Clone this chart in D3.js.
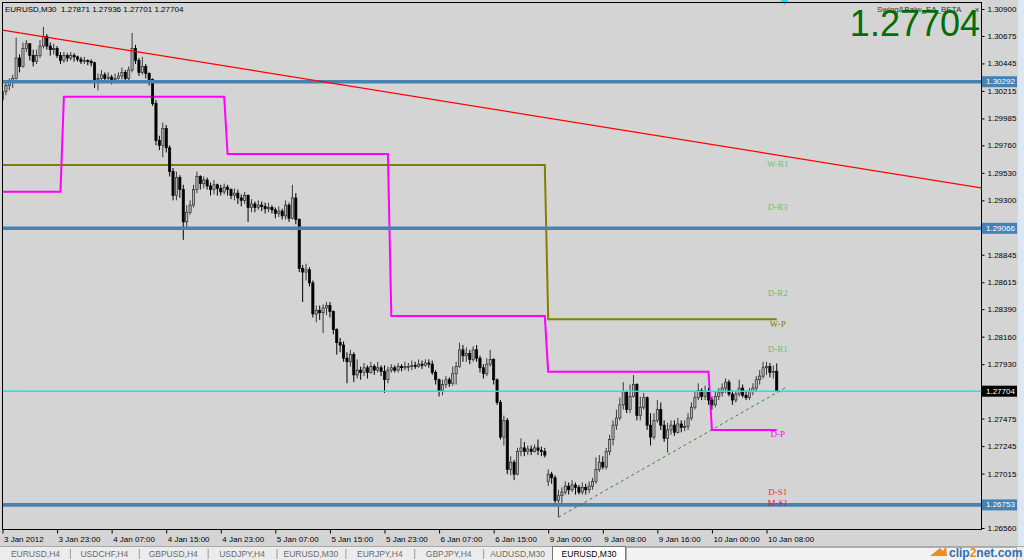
<!DOCTYPE html>
<html><head><meta charset="utf-8">
<script src="https://cdn.jsdelivr.net/npm/d3@7"></script>
<style>
html,body{margin:0;padding:0;background:#d4d4d4;overflow:hidden;}
svg{display:block;}
</style></head><body>
<svg id="c" width="1024" height="560"></svg>
<script>
// ---------------- DATA ----------------
const symbolTitle = "EURUSD,M30";
const eaName = "Swing&Balw_EA_BETA";
const lastBar = {open:1.27871, high:1.27936, low:1.27701, close:1.27704};

const opens = [
1.3014,1.3021,1.3026,1.3029,1.3032,1.3049,1.3042,1.3057,1.3061,1.3051,
1.3046,1.3051,1.3059,1.3067,1.3059,1.3056,1.3057,1.3051,1.3047,1.3051,
1.3049,1.3051,1.3050,1.3048,1.3046,1.3047,1.3046,1.3045,1.3031,1.3032,
1.3035,1.3032,1.3033,1.3031,1.3032,1.3034,1.3037,1.3032,1.3039,1.3057,
1.3047,1.3037,1.3042,1.3036,1.3031,1.3011,1.2980,1.2976,1.2990,1.2974,
1.2954,1.2934,1.2949,1.2939,1.2912,1.2920,1.2926,1.2939,1.2950,1.2944,
1.2947,1.2942,1.2939,1.2943,1.2940,1.2937,1.2941,1.2939,1.2934,1.2936,
1.2932,1.2930,1.2934,1.2924,1.2927,1.2924,1.2926,1.2925,1.2923,1.2924,
1.2922,1.2919,1.2921,1.2917,1.2926,1.2915,1.2932,1.2914,1.2873,1.2870,
1.2872,1.2861,1.2835,1.2838,1.2836,1.2840,1.2842,1.2837,1.2822,1.2811,
1.2809,1.2798,1.2795,1.2801,1.2784,1.2788,1.2786,1.2790,1.2786,1.2791,
1.2788,1.2790,1.2787,1.2780,1.2788,1.2790,1.2788,1.2791,1.2790,1.2791,
1.2791,1.2792,1.2791,1.2793,1.2792,1.2794,1.2793,1.2786,1.2780,1.2771,
1.2776,1.2780,1.2777,1.2785,1.2791,1.2805,1.2800,1.2802,1.2797,1.2805,
1.2798,1.2790,1.2785,1.2793,1.2797,1.2780,1.2761,1.2732,1.2746,1.2705,
1.2711,1.2701,1.2720,1.2723,1.2720,1.2722,1.2720,1.2723,1.2721,1.2720,
1.2695,1.2701,1.2698,1.2679,1.2683,1.2686,1.2691,1.2688,1.2692,1.2690,
1.2686,1.2690,1.2688,1.2691,1.2695,1.2705,1.2711,1.2707,1.2720,1.2730,
1.2742,1.2748,1.2759,1.2770,1.2755,1.2766,1.2776,1.2750,1.2757,1.2765,
1.2742,1.2732,1.2746,1.2755,1.2742,1.2731,1.2738,1.2742,1.2736,1.2743,
1.2740,1.2741,1.2748,1.2757,1.2765,1.2771,1.2766,1.2770,1.2763,1.2759,
1.2766,1.2769,1.2773,1.2778,1.2768,1.2763,1.2768,1.2773,1.2767,1.2765,
1.2770,1.2773,1.2780,1.2783,1.2790,1.2791,1.2786,1.27871];

const highs = [
1.3026,1.3029,1.3032,1.3035,1.3066,1.3052,1.3062,1.3064,1.3060,1.3056,
1.3056,1.3064,1.3075,1.3069,1.3062,1.3061,1.3059,1.3054,1.3054,1.3053,
1.3054,1.3053,1.3051,1.3050,1.3050,1.3048,1.3048,1.3046,1.3036,1.3039,
1.3037,1.3037,1.3035,1.3036,1.3037,1.3041,1.3039,1.3042,1.3070,1.3060,
1.3049,1.3050,1.3044,1.3037,1.3032,1.3014,1.2984,1.2995,1.2993,1.2976,
1.2957,1.2954,1.2951,1.2943,1.2926,1.2930,1.2943,1.2954,1.2951,1.2950,
1.2949,1.2945,1.2947,1.2944,1.2943,1.2944,1.2943,1.2940,1.2940,1.2939,
1.2935,1.2937,1.2935,1.2931,1.2929,1.2930,1.2929,1.2928,1.2928,1.2926,
1.2924,1.2925,1.2923,1.2930,1.2928,1.2943,1.2936,1.2915,1.2876,1.2877,
1.2874,1.2863,1.2842,1.2842,1.2843,1.2845,1.2845,1.2838,1.2823,1.2815,
1.2812,1.2803,1.2805,1.2803,1.2797,1.2791,1.2794,1.2792,1.2795,1.2793,
1.2795,1.2792,1.2792,1.2791,1.2793,1.2792,1.2794,1.2793,1.2795,1.2794,
1.2796,1.2795,1.2797,1.2796,1.2797,1.2797,1.2796,1.2788,1.2781,1.2780,
1.2783,1.2782,1.2791,1.2795,1.2811,1.2809,1.2807,1.2805,1.2808,1.2809,
1.2800,1.2793,1.2798,1.2805,1.2798,1.2781,1.2763,1.2750,1.2748,1.2716,
1.2713,1.2723,1.2731,1.2728,1.2725,1.2725,1.2726,1.2730,1.2724,1.2723,
1.2705,1.2703,1.2700,1.2688,1.2690,1.2695,1.2694,1.2696,1.2694,1.2692,
1.2694,1.2693,1.2695,1.2698,1.2715,1.2717,1.2716,1.2723,1.2734,1.2746,
1.2755,1.2765,1.2778,1.2771,1.2776,1.2784,1.2777,1.2766,1.2769,1.2766,
1.2752,1.2752,1.2763,1.2761,1.2746,1.2744,1.2746,1.2746,1.2748,1.2746,
1.2746,1.2752,1.2761,1.2770,1.2777,1.2773,1.2775,1.2773,1.2766,1.2770,
1.2773,1.2777,1.2781,1.2780,1.2771,1.2771,1.2780,1.2776,1.2771,1.2773,
1.2777,1.2783,1.2788,1.2795,1.2795,1.2794,1.2792,1.27936];

const lows = [
1.3009,1.3018,1.3022,1.3024,1.3031,1.3037,1.3041,1.3054,1.3047,1.3042,
1.3044,1.3049,1.3057,1.3056,1.3051,1.3052,1.3049,1.3044,1.3045,1.3046,
1.3047,1.3046,1.3046,1.3044,1.3044,1.3043,1.3042,1.3024,1.3022,1.3029,
1.3029,1.3030,1.3027,1.3029,1.3031,1.3031,1.3028,1.3029,1.3037,1.3044,
1.3034,1.3035,1.3032,1.3026,1.3009,1.2976,1.2972,1.2966,1.2970,1.2950,
1.2930,1.2930,1.2932,1.2897,1.2907,1.2918,1.2924,1.2936,1.2939,1.2940,
1.2939,1.2934,1.2935,1.2934,1.2934,1.2935,1.2934,1.2931,1.2930,1.2927,
1.2925,1.2927,1.2912,1.2920,1.2920,1.2922,1.2921,1.2919,1.2920,1.2919,
1.2915,1.2916,1.2914,1.2914,1.2912,1.2914,1.2910,1.2870,1.2845,1.2863,
1.2858,1.2832,1.2828,1.2830,1.2819,1.2834,1.2832,1.2818,1.2801,1.2803,
1.2795,1.2777,1.2791,1.2778,1.2781,1.2780,1.2783,1.2781,1.2785,1.2784,
1.2786,1.2783,1.2769,1.2777,1.2786,1.2786,1.2786,1.2787,1.2788,1.2787,
1.2788,1.2789,1.2790,1.2789,1.2791,1.2790,1.2784,1.2776,1.2766,1.2767,
1.2773,1.2774,1.2775,1.2776,1.2790,1.2795,1.2795,1.2793,1.2795,1.2795,
1.2786,1.2781,1.2783,1.2791,1.2776,1.2759,1.2730,1.2725,1.2701,1.2700,
1.2696,1.2700,1.2716,1.2716,1.2717,1.2717,1.2719,1.2717,1.2716,1.2715,
1.2691,1.2693,1.2677,1.2665,1.2677,1.2684,1.2684,1.2686,1.2684,1.2684,
1.2684,1.2684,1.2685,1.2688,1.2693,1.2703,1.2705,1.2705,1.2717,1.2725,
1.2738,1.2746,1.2755,1.2752,1.2752,1.2765,1.2746,1.2746,1.2755,1.2738,
1.2725,1.2730,1.2744,1.2738,1.2728,1.2719,1.2734,1.2733,1.2735,1.2736,
1.2737,1.2738,1.2746,1.2755,1.2763,1.2763,1.2763,1.2759,1.2755,1.2757,
1.2763,1.2766,1.2769,1.2766,1.2759,1.2761,1.2766,1.2765,1.2763,1.2763,
1.2767,1.2770,1.2776,1.2781,1.2784,1.2782,1.2781,1.27701];

const closes = [
1.3021,1.3026,1.3029,1.3032,1.3049,1.3042,1.3057,1.3061,1.3051,1.3046,
1.3051,1.3059,1.3067,1.3059,1.3056,1.3057,1.3051,1.3047,1.3051,1.3049,
1.3051,1.3050,1.3048,1.3046,1.3047,1.3046,1.3045,1.3031,1.3032,1.3035,
1.3032,1.3033,1.3031,1.3032,1.3034,1.3037,1.3032,1.3039,1.3057,1.3047,
1.3037,1.3042,1.3036,1.3031,1.3011,1.2980,1.2976,1.2990,1.2974,1.2954,
1.2934,1.2949,1.2939,1.2912,1.2920,1.2926,1.2939,1.2950,1.2944,1.2947,
1.2942,1.2939,1.2943,1.2940,1.2937,1.2941,1.2939,1.2934,1.2936,1.2932,
1.2930,1.2934,1.2924,1.2927,1.2924,1.2926,1.2925,1.2923,1.2924,1.2922,
1.2919,1.2921,1.2917,1.2926,1.2915,1.2932,1.2914,1.2873,1.2870,1.2872,
1.2861,1.2835,1.2838,1.2836,1.2840,1.2842,1.2837,1.2822,1.2811,1.2809,
1.2798,1.2795,1.2801,1.2784,1.2788,1.2786,1.2790,1.2786,1.2791,1.2788,
1.2790,1.2787,1.2780,1.2788,1.2790,1.2788,1.2791,1.2790,1.2791,1.2791,
1.2792,1.2791,1.2793,1.2792,1.2794,1.2793,1.2786,1.2780,1.2771,1.2776,
1.2780,1.2777,1.2785,1.2791,1.2805,1.2800,1.2802,1.2797,1.2805,1.2798,
1.2790,1.2785,1.2793,1.2797,1.2780,1.2761,1.2732,1.2746,1.2705,1.2711,
1.2701,1.2720,1.2723,1.2720,1.2722,1.2720,1.2723,1.2721,1.2720,1.2717,
1.2701,1.2698,1.2679,1.2683,1.2686,1.2691,1.2688,1.2692,1.2690,1.2686,
1.2690,1.2688,1.2691,1.2695,1.2705,1.2711,1.2707,1.2720,1.2730,1.2742,
1.2748,1.2759,1.2770,1.2755,1.2766,1.2776,1.2750,1.2757,1.2765,1.2742,
1.2732,1.2746,1.2755,1.2742,1.2731,1.2738,1.2742,1.2736,1.2743,1.2740,
1.2741,1.2748,1.2757,1.2765,1.2771,1.2766,1.2770,1.2763,1.2759,1.2766,
1.2769,1.2773,1.2778,1.2768,1.2763,1.2768,1.2773,1.2767,1.2765,1.2770,
1.2773,1.2780,1.2783,1.2790,1.2791,1.2786,1.2787,1.27704];

const timeTickBars = [0,16,32,48,64,80,96,112,128,144,160,176,192,208,224];
const timeTickLabels = ["3 Jan 2012","3 Jan 23:00","4 Jan 07:00","4 Jan 15:00","4 Jan 23:00",
  "5 Jan 07:00","5 Jan 15:00","5 Jan 23:00","6 Jan 07:00","6 Jan 15:00",
  "9 Jan 00:00","9 Jan 08:00","9 Jan 16:00","10 Jan 00:00","10 Jan 08:00"];
const priceTicks = [1.30900,1.30675,1.30445,1.30215,1.29985,1.29760,1.29530,1.29300,1.29070,
  1.28845,1.28615,1.28390,1.28160,1.27930,1.27700,1.27475,1.27245,1.27015,1.26780,1.26560];

const dayStarts = [0,18,66,114,160,208];
const dailyPivot = [1.29372,1.30167,1.29688,1.28333,1.27867,1.27380];
const weekStarts = [0,160];
const weeklyPivot = [1.29596,1.28305];

const srLevels = [1.30292,1.29066,1.26753];
const bidLevel = 1.27704;
const resistanceTrend = [[0,1.30724],[287,1.29403]];
const supportTrend = [[163,1.26650],[230,1.27740]];

const pivotNames  = ["W-R1","D-R3","D-R2","W-P","D-R1","D-P","D-S1","M-S1"];
const pivotPrices = [1.29637,1.29278,1.28559,1.28305,1.28090,1.27380,1.26900,1.26810];

const inactiveTabs = ["EURUSD,H4","USDCHF,H4","GBPUSD,H4","USDJPY,H4","EURUSD,M30","EURJPY,H4","GBPJPY,H4","AUDUSD,M30"];
const activeTab = "EURUSD,M30";

// ---------------- DRAW ----------------
const svg = d3.select("#c");
const W = 1024, H = 560;
const plot = {l:2, r:981, t:2, b:529};
const x = d3.scaleLinear().domain([0,224]).range([2.5,766.5]);
const y = d3.scaleLinear().domain([1.26560,1.30900]).range([528,9]);
const bars = d3.range(closes.length);
const fmt5 = d3.format(".5f");
const uiFont = "'Liberation Sans', Arial, sans-serif";

svg.append("rect").attr("width",W).attr("height",H).attr("fill","#d4d4d4");
svg.append("rect").attr("x",1018).attr("y",0).attr("width",6).attr("height",546).attr("fill","#dde7f3");

svg.append("defs").append("clipPath").attr("id","pc")
  .append("rect").attr("x",plot.l).attr("y",plot.t).attr("width",plot.r-plot.l).attr("height",plot.b-plot.t);
const g = svg.append("g").attr("clip-path","url(#pc)");

// pivot step lines (indicators)
function levelAt(starts, levels, i){ let k=0; for(let j=0;j<starts.length;j++) if(i>=starts[j]) k=j; return levels[k]; }
g.append("path")
  .attr("d", d3.line().x(d=>x(d)).y(d=>y(levelAt(weekStarts,weeklyPivot,d)))(bars))
  .attr("fill","none").attr("stroke","#808000").attr("stroke-width",2);
g.append("path")
  .attr("d", d3.line().x(d=>x(d)).y(d=>y(levelAt(dayStarts,dailyPivot,d)))(bars))
  .attr("fill","none").attr("stroke","#ff00ff").attr("stroke-width",2);

// candles
const bw = 2.2;
const cg = g.append("g");
bars.forEach(i=>{
  const o=opens[i], c=closes[i];
  const hi=Math.max(highs[i],o,c), lo=Math.min(lows[i],o,c);
  const bull = c>=o;
  const col = bull ? "#3a3a3a" : "#000";
  const xc = x(i);
  cg.append("line").attr("x1",xc).attr("x2",xc).attr("y1",y(hi)).attr("y2",y(lo))
    .attr("stroke",col).attr("stroke-width",1);
  const top=y(Math.max(o,c)), bot=y(Math.min(o,c));
  cg.append("rect").attr("x",xc-bw/2).attr("y",top).attr("width",bw).attr("height",Math.max(1,bot-top))
    .attr("fill", bull ? "#b4b4b4" : "#000").attr("stroke", bull ? "#2a2a2a":"#000").attr("stroke-width",0.7);
});

// horizontal objects
srLevels.forEach(p=>{
  g.append("line").attr("x1",plot.l).attr("x2",plot.r).attr("y1",y(p)).attr("y2",y(p))
    .attr("stroke","#4682b4").attr("stroke-width",3.6);
});
g.append("line").attr("x1",plot.l).attr("x2",plot.r).attr("y1",y(bidLevel)).attr("y2",y(bidLevel))
  .attr("stroke","#00f0f0").attr("stroke-width",1.4);

// trendlines
const tl = d3.line().x(d=>x(d[0])).y(d=>y(d[1]));
g.append("path").attr("d",tl(resistanceTrend)).attr("stroke","#ff0000").attr("stroke-width",1.2).attr("fill","none");
g.append("path").attr("d",tl(supportTrend)).attr("stroke","#2e8b2e").attr("stroke-width",1)
  .attr("stroke-dasharray","3,3").attr("fill","none");

// pivot labels
const labelColor = {"W-R1":"#62c862","D-R3":"#62c862","D-R2":"#62c862","D-R1":"#62c862",
  "W-P":"#808000","D-P":"#ff00ff","D-S1":"#e83030","M-S1":"#d42020"};
pivotNames.forEach((n,k)=>{
  g.append("text").attr("x",x(227)+1).attr("y",y(pivotPrices[k])+1)
    .attr("dominant-baseline","hanging").attr("text-anchor","middle")
    .attr("font-family","'Liberation Serif','DejaVu Serif',serif").attr("font-size",9)
    .attr("fill",labelColor[n]).text(n);
});

// header texts
svg.append("text").attr("x",5).attr("y",12).attr("font-family",uiFont).attr("font-size",8).attr("fill","#000")
  .attr("xml:space","preserve")
  .text(symbolTitle+"  "+[lastBar.open,lastBar.high,lastBar.low,lastBar.close].map(fmt5).join(" "));
svg.append("text").attr("x",877).attr("y",12).attr("font-family",uiFont).attr("font-size",8).attr("fill","#333").text(eaName);
svg.append("text").attr("x",975).attr("y",12).attr("font-family",uiFont).attr("font-size",8).attr("fill","#333").text("x");
svg.append("text").attr("x",980).attr("y",36).attr("text-anchor","end").attr("font-family",uiFont)
  .attr("font-size",36).attr("fill","#006e00").text(fmt5(lastBar.close));
svg.append("path").attr("d",`M${x(229.3)-4},0 L${x(229.3)+4},0 L${x(229.3)},5 Z`).attr("fill","#00e5ee");

// frame
svg.append("rect").attr("x",plot.l+0.5).attr("y",plot.t+0.5).attr("width",plot.r-plot.l).attr("height",plot.b-plot.t)
  .attr("fill","none").attr("stroke","#000").attr("stroke-width",1);

// price axis
const ay = svg.append("g").attr("transform",`translate(${plot.r+0.5},0)`)
  .call(d3.axisRight(y).tickValues(priceTicks).tickSize(3).tickPadding(3).tickFormat(fmt5));
ay.select(".domain").remove();
ay.selectAll("text").attr("font-family",uiFont).attr("font-size",8).attr("fill","#000");
ay.selectAll("line").attr("stroke","#000");

// price labels for objects
function priceBox(p, bg){
  const yy = y(p);
  svg.append("rect").attr("x",982).attr("y",yy-5.5).attr("width",35).attr("height",11).attr("fill",bg);
  svg.append("text").attr("x",986).attr("y",yy).attr("dy","0.32em").attr("font-family",uiFont)
    .attr("font-size",8).attr("fill","#fff").text(fmt5(p));
}
srLevels.forEach(p=>priceBox(p,"#4682b4"));
priceBox(bidLevel,"#000");

// time axis
const ax = svg.append("g").attr("transform",`translate(0,${plot.b+0.5})`)
  .call(d3.axisBottom(x).tickValues(timeTickBars).tickSize(4).tickPadding(3).tickFormat((d,k)=>timeTickLabels[k]));
ax.select(".domain").remove();
ax.selectAll("text").attr("text-anchor","start").attr("dx","1").attr("font-family",uiFont).attr("font-size",8).attr("fill","#000");
ax.selectAll("line").attr("stroke","#000");

// tab bar
const tabY = 546;
svg.append("rect").attr("x",0).attr("y",tabY).attr("width",W).attr("height",H-tabY).attr("fill","#ececec");
svg.append("line").attr("x1",0).attr("x2",W).attr("y1",tabY+0.5).attr("y2",tabY+0.5).attr("stroke","#a8a8a8");
const tb = d3.scaleBand().domain(inactiveTabs).range([1,552]);
inactiveTabs.forEach((t,k)=>{
  svg.append("text").attr("x",tb(t)+tb.bandwidth()/2).attr("y",556.5).attr("text-anchor","middle")
    .attr("font-family",uiFont).attr("font-size",8.5).attr("fill","#6a6a6a").text(t);
  if(k>0) svg.append("line").attr("x1",tb(t)+0.5).attr("x2",tb(t)+0.5).attr("y1",549).attr("y2",559).attr("stroke","#9a9a9a");
});
svg.append("rect").attr("x",552.5).attr("y",tabY+0.5).attr("width",73).attr("height",14).attr("fill","#fff").attr("stroke","#777");
svg.append("text").attr("x",589).attr("y",556.5).attr("text-anchor","middle").attr("font-family",uiFont)
  .attr("font-size",8.5).attr("fill","#000").text(activeTab);
svg.append("rect").attr("x",626.5).attr("y",tabY+1.5).attr("width",390).attr("height",14).attr("fill","#f2f2f2").attr("stroke","#b0b0b0");

// clip2net badge
svg.append("path").attr("d","M930,556 L940,548 L943,551 L946,546 L947,556 Z").attr("fill","#f08a1c");
const c2 = svg.append("text").attr("x",949).attr("y",557).attr("font-family",uiFont).attr("font-size",12).attr("font-weight","bold");
c2.append("tspan").attr("fill","#2f6db5").text("clip");
c2.append("tspan").attr("fill","#f08a1c").text("2");
c2.append("tspan").attr("fill","#2f6db5").text("net.com");
</script>
</body></html>
